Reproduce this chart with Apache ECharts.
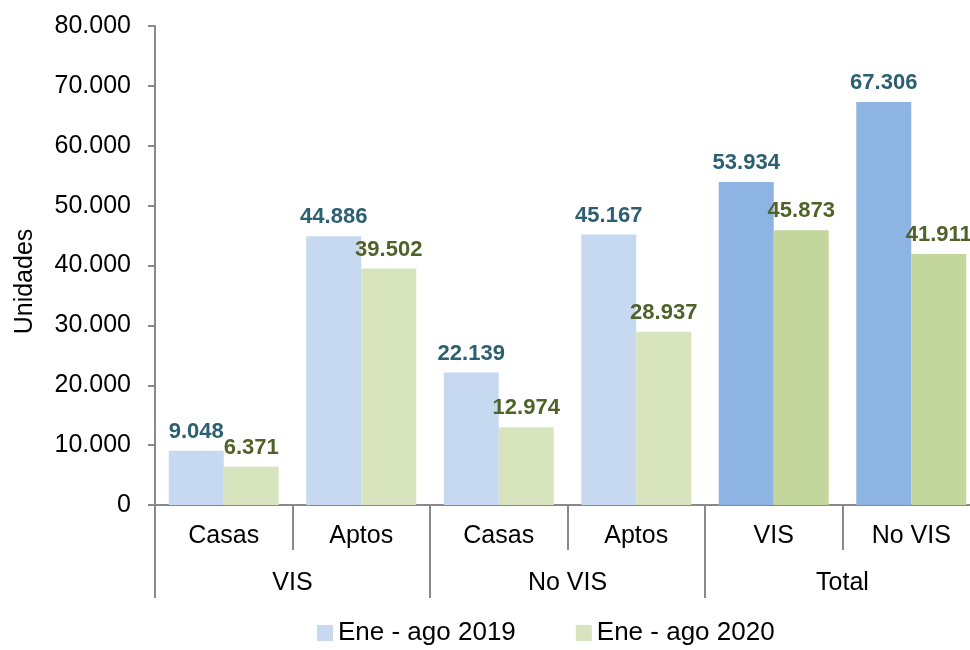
<!DOCTYPE html>
<html>
<head>
<meta charset="utf-8">
<script src="https://cdn.jsdelivr.net/npm/echarts@6/dist/echarts.min.js"></script>
<style>
html,body{margin:0;padding:0;background:#fff;overflow:hidden;width:970px;height:650px;}
#chart{width:990px;height:650px;}
</style>
</head>
<body>
<div id="chart"></div>
<script>
// ---- data ----
var subCategories = ['Casas', 'Aptos', 'Casas', 'Aptos', 'VIS', 'No VIS'];
var groupCategories = ['VIS', 'No VIS', 'Total'];
var seriesNames = ['Ene - ago 2019', 'Ene - ago 2020'];
var values2019 = [9048, 44886, 22139, 45167, 53934, 67306];
var values2020 = [6371, 39502, 12974, 28937, 45873, 41911];
var yTicks = [0, 10000, 20000, 30000, 40000, 50000, 60000, 70000, 80000];

// ---- styles ----
var FONT = 'Liberation Sans, Arial, sans-serif';
var AXIS = '#898989';
var light2019 = '#c6d9f1', dark2019 = '#8eb4e3';
var light2020 = '#d7e4bd', dark2020 = '#c3d69b';
var lbl2019 = '#2b5f71', lbl2020 = '#4f6228';
var darkFrom = 4; // Total group uses darker fills

function fmt(v) {
  return String(v).replace(/\B(?=(\d{3})+(?!\d))/g, '.');
}
function build(vals, light, dark) {
  return vals.map(function (v, i) {
    return { value: v, itemStyle: { color: i >= darkFrom ? dark : light } };
  });
}

var chart = echarts.init(document.getElementById('chart'), null, { renderer: 'canvas' });
chart.setOption({
  animation: false,
  backgroundColor: '#fff',
  grid: { left: 155, top: 26, width: 825, height: 479, containLabel: false, outerBoundsMode: 'none' },
  legend: {
    data: seriesNames,
    left: 317,
    top: 620,
    padding: 0,
    icon: 'rect',
    itemWidth: 16,
    itemHeight: 16,
    itemGap: 60,
    textStyle: { fontFamily: FONT, fontSize: 26, color: '#000' }
  },
  xAxis: [
    {
      type: 'category',
      data: subCategories,
      position: 'bottom',
      axisLine: { show: true, lineStyle: { color: AXIS, width: 2 } },
      axisTick: { show: true, interval: 0, length: 45, lineStyle: { color: AXIS, width: 2 } },
      axisLabel: { interval: 0, margin: 19, fontFamily: FONT, fontSize: 25, color: '#000' }
    },
    {
      type: 'category',
      data: groupCategories,
      position: 'bottom',
      axisLine: { show: false },
      axisTick: { show: true, interval: 0, length: 93, lineStyle: { color: AXIS, width: 2 } },
      axisLabel: { interval: 0, margin: 66, fontFamily: FONT, fontSize: 25, color: '#000' },
      splitLine: { show: false }
    }
  ],
  yAxis: {
    type: 'value',
    min: yTicks[0],
    max: yTicks[yTicks.length - 1],
    interval: yTicks[1] - yTicks[0],
    name: 'Unidades',
    nameLocation: 'middle',
    nameGap: 117,
    nameTextStyle: { fontFamily: FONT, fontSize: 25, color: '#000', padding: [0, 32, 0, 0] },
    axisLine: { show: true, lineStyle: { color: AXIS, width: 2 } },
    axisTick: { show: true, length: 7, lineStyle: { color: AXIS, width: 2 } },
    splitLine: { show: false },
    axisLabel: { margin: 24, fontFamily: FONT, fontSize: 25, color: '#000', formatter: fmt }
  },
  series: [
    {
      name: seriesNames[0],
      type: 'bar',
      xAxisIndex: 0,
      barGap: '0%',
      barCategoryGap: '20%',
      itemStyle: { color: light2019 },
      data: build(values2019, light2019, dark2019),
      label: {
        show: true, position: 'top', distance: 8,
        fontFamily: FONT, fontSize: 22, fontWeight: 'bold', color: lbl2019,
        formatter: function (p) { return fmt(p.value); }
      }
    },
    {
      name: seriesNames[1],
      type: 'bar',
      xAxisIndex: 0,
      barGap: '0%',
      barCategoryGap: '20%',
      itemStyle: { color: light2020 },
      data: build(values2020, light2020, dark2020),
      label: {
        show: true, position: 'top', distance: 8,
        fontFamily: FONT, fontSize: 22, fontWeight: 'bold', color: lbl2020,
        formatter: function (p) { return fmt(p.value); }
      }
    }
  ]
});
</script>
</body>
</html>
